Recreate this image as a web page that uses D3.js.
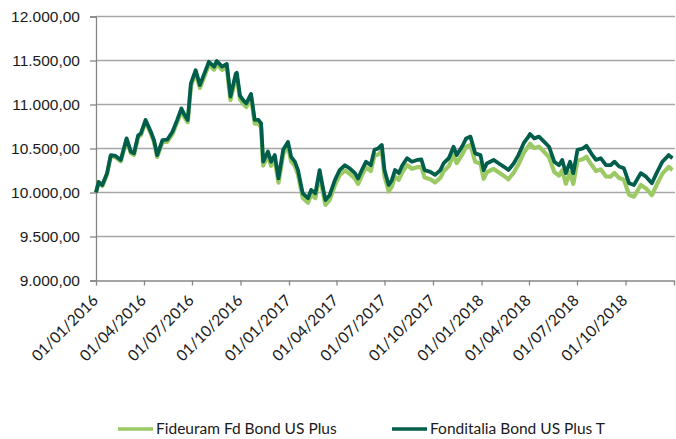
<!DOCTYPE html>
<html>
<head>
<meta charset="utf-8">
<script src="https://cdn.jsdelivr.net/npm/d3@7"></script>
<style>
  body { margin: 0; background: #fff; }
  svg { display: block; font-family: Lato, "Open Sans", sans-serif; }
</style>
</head>
<body>
<svg width="676" height="439"></svg>
<script>
// series values (weekly-ish samples)
let dates = [
  "2016-01-01","2016-01-06","2016-01-13","2016-01-22","2016-01-29","2016-02-07","2016-02-17","2016-02-28",
  "2016-03-07","2016-03-13","2016-03-21","2016-03-26","2016-04-04","2016-04-14","2016-04-20","2016-04-26",
  "2016-05-06","2016-05-15","2016-05-25","2016-06-03","2016-06-11","2016-06-17","2016-06-23","2016-06-29",
  "2016-07-08","2016-07-16","2016-07-27","2016-08-02","2016-08-12","2016-08-17","2016-08-27","2016-09-05",
  "2016-09-12","2016-09-22","2016-09-24","2016-09-30","2016-10-06","2016-10-12","2016-10-21","2016-10-28",
  "2016-11-04","2016-11-09","2016-11-13","2016-11-22","2016-11-28","2016-12-05","2016-12-12","2016-12-21",
  "2016-12-30","2017-01-05","2017-01-12","2017-01-18","2017-01-27","2017-02-06","2017-02-12","2017-02-20",
  "2017-02-28","2017-03-06","2017-03-11","2017-03-19","2017-03-29","2017-04-07","2017-04-17","2017-04-26",
  "2017-05-06","2017-05-12","2017-05-19","2017-05-27","2017-06-05","2017-06-12","2017-06-19","2017-06-26",
  "2017-07-01","2017-07-09","2017-07-15","2017-07-21","2017-07-28","2017-08-04","2017-08-13","2017-08-22",
  "2017-09-01","2017-09-09","2017-09-15","2017-09-26","2017-10-05","2017-10-15","2017-10-21","2017-10-31",
  "2017-11-09","2017-11-15","2017-11-25","2017-12-03","2017-12-11","2017-12-20","2017-12-30","2018-01-05",
  "2018-01-11","2018-01-24","2018-02-03","2018-02-12","2018-02-21","2018-03-03","2018-03-12","2018-03-22",
  "2018-03-31","2018-04-03","2018-04-11","2018-04-20","2018-04-30","2018-05-09","2018-05-19","2018-05-28",
  "2018-06-03","2018-06-10","2018-06-18","2018-06-24","2018-07-02","2018-07-12","2018-07-19","2018-07-28",
  "2018-08-06","2018-08-15","2018-08-25","2018-09-03","2018-09-10","2018-09-19","2018-09-28","2018-10-08",
  "2018-10-17","2018-10-30","2018-11-09","2018-11-20","2018-11-29","2018-12-10","2018-12-22","2018-12-29"
];

let fonditalia = [
  10000,10120,10085,10220,10425,10415,10370,10615,
  10465,10445,10650,10670,10825,10690,10595,10425,
  10595,10600,10690,10825,10955,10880,10825,11240,
  11390,11220,11390,11485,11430,11495,11430,11460,
  11090,11350,11360,11100,11050,11013,11120,10825,
  10825,10785,10350,10465,10350,10425,10160,10485,
  10575,10405,10350,10255,9990,9935,10030,9990,
  10255,10065,9915,9970,10140,10255,10310,10275,
  10220,10160,10255,10350,10310,10485,10500,10540,
  10255,10085,10140,10255,10220,10310,10390,10350,
  10370,10375,10255,10235,10200,10255,10330,10390,
  10520,10425,10520,10615,10635,10445,10425,10255,
  10330,10370,10330,10295,10255,10330,10425,10560,
  10635,10665,10615,10635,10575,10520,10350,10310,
  10370,10220,10350,10220,10485,10500,10530,10445,
  10370,10390,10310,10310,10350,10295,10275,10105,
  10085,10220,10180,10105,10220,10350,10425,10390
];

let fideuram = [
  10000,10112,10075,10208,10412,10400,10355,10598,
  10448,10427,10632,10651,10805,10670,10574,10404,
  10572,10576,10665,10799,10928,10852,10797,11211,
  11360,11189,11358,11452,11396,11460,11394,11423,
  11052,11311,11321,11060,11009,10971,11078,10782,
  10781,10741,10305,10420,10304,10378,10113,10437,
  10526,10355,10300,10204,9939,9883,9977,9936,
  10200,10010,9859,9914,10083,10196,10250,10214,
  10158,10097,10191,10285,10244,10418,10432,10471,
  10185,10012,10066,10180,10144,10232,10311,10270,
  10288,10292,10171,10150,10113,10167,10241,10300,
  10429,10333,10427,10521,10540,10349,10328,10156,
  10230,10268,10227,10191,10150,10224,10318,10451,
  10525,10554,10503,10521,10460,10404,10233,10192,
  10251,10100,10229,10098,10363,10377,10406,10320,
  10244,10263,10182,10181,10221,10165,10144,9973,
  9952,10086,10046,9970,10085,10215,10290,10255
];

let seriesNames = ["Fideuram Fd Bond US Plus", "Fonditalia Bond US Plus T"];
let seriesColors = ["#9bc964", "#005e4b"];
let yTicks = [9000, 9500, 10000, 10500, 11000, 11500, 12000];

let parse = d3.timeParse("%Y-%m-%d");
let svg = d3.select("svg");

let left = 96, right = 674, plotTop = 16.5, plotBottom = 280.5;

let x = d3.scaleTime()
    .domain([parse("2016-01-01"), parse("2019-01-01")])
    .range([left, right]);

let y = d3.scaleLinear()
    .domain([9000, 12000])
    .range([plotBottom, plotTop]);

let it = d3.formatLocale({decimal: ",", thousands: ".", grouping: [3], currency: ["€", ""]});
let fmtY = it.format(",.2f");
let fmtX = d3.timeFormat("%d/%m/%Y");

// gridlines
svg.append("g")
  .selectAll("line")
  .data(yTicks.slice(1))
  .enter().append("line")
    .attr("x1", left).attr("x2", right + 1)
    .attr("y1", (d) => y(d))
    .attr("y2", (d) => y(d))
    .attr("stroke", "#a6a6a6")
    .attr("stroke-width", 1.3);

// y axis
let yAxis = svg.append("g")
    .attr("transform", `translate(${left},0)`)
    .call(d3.axisLeft(y).tickValues(yTicks).tickFormat(fmtY).tickSize(6).tickPadding(10));
yAxis.select(".domain").attr("stroke", "#868686").attr("stroke-width", 1.3);
yAxis.selectAll(".tick line").attr("stroke", "#868686").attr("stroke-width", 1.3);
yAxis.selectAll(".tick text")
    .attr("fill", "#1a1a1a")
    .style("font-size", "15.5px");

// x axis
let xTicks = d3.timeMonth.range(parse("2016-01-01"), parse("2019-01-02"), 3);
let xAxis = svg.append("g")
    .attr("transform", `translate(0,${plotBottom})`)
    .call(d3.axisBottom(x).tickValues(xTicks).tickFormat("").tickSize(5).tickSizeOuter(0));
xAxis.select(".domain").attr("stroke", "#868686").attr("stroke-width", 1.3);
xAxis.selectAll(".tick line").attr("stroke", "#868686").attr("stroke-width", 1.3);

svg.append("g")
  .selectAll("text")
  .data(xTicks.slice(0, -1))
  .enter().append("text")
    .attr("transform", (d) => `translate(${x(d) + 3},${plotBottom + 21}) rotate(-45)`)
    .attr("text-anchor", "end")
    .attr("fill", "#1a1a1a")
    .style("font-size", "15.5px")
    .text((d) => fmtX(d));

// lines
let series = [fideuram, fonditalia];
let line = d3.line()
    .x((d) => x(d[0]))
    .y((d) => y(d[1]));

svg.append("g")
  .selectAll("path")
  .data(series)
  .enter().append("path")
    .attr("d", (s) => line(s.map((v, i) => [parse(dates[i]), v])))
    .attr("fill", "none")
    .attr("stroke", (s, i) => seriesColors[i])
    .attr("stroke-width", (s, i) => i === 0 ? 4.2 : 3.8)
    .attr("stroke-linejoin", "round");

// legend
let legendX = [118, 392];
let legend = svg.append("g")
  .selectAll("g")
  .data(seriesNames)
  .enter().append("g")
    .attr("transform", (d, i) => `translate(${legendX[i]},429)`);

legend.append("line")
    .attr("x1", 0).attr("x2", 35)
    .attr("stroke", (d, i) => seriesColors[i])
    .attr("stroke-width", 3.4);

legend.append("text")
    .attr("x", 38)
    .attr("dy", "0.35em")
    .attr("fill", "#1a1a1a")
    .style("font-size", "15.5px")
    .text((d) => d);
</script>
</body>
</html>
